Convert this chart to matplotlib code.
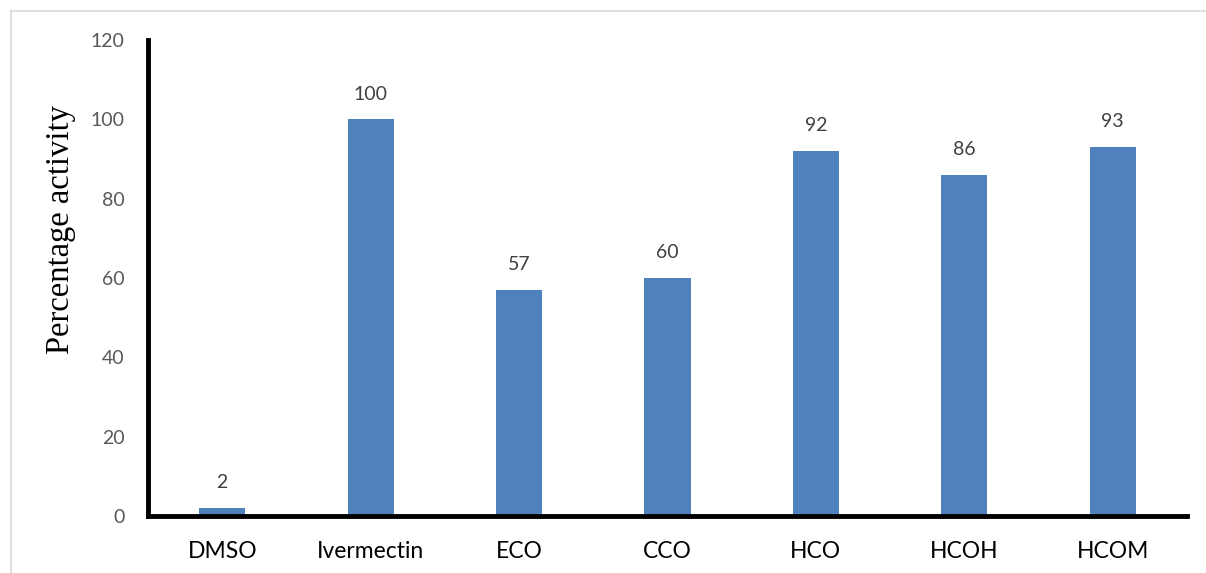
import matplotlib
matplotlib.use("Agg")
import matplotlib.pyplot as plt
from matplotlib.lines import Line2D

categories = ["DMSO", "Ivermectin", "ECO", "CCO", "HCO", "HCOH", "HCOM"]
values = [2, 100, 57, 60, 92, 86, 93]
yticks = [0, 20, 40, 60, 80, 100, 120]

fig = plt.figure(figsize=(12.06, 5.73), dpi=100)
ax = fig.add_axes([148/1206, 1 - 516/573, (1187 - 148)/1206, (516 - 40)/573])

x = list(range(len(categories)))
bars = ax.bar(x, values, width=0.31, color="#4F81BD", zorder=2)
ax.set_xlim(-0.5, len(categories) - 0.5)
ax.set_ylim(0, 120)
ax.set_yticks(yticks)
ax.set_xticks(x)
ax.set_xticklabels(categories, fontsize=16.5, color="black", family="Lato")
ax.set_yticklabels([str(t) for t in yticks], fontsize=14, color="#595959", family="Lato")
ax.tick_params(axis="both", length=0)
ax.tick_params(axis="y", pad=17)
ax.tick_params(axis="x", pad=18)

for s in ["top", "right"]:
    ax.spines[s].set_visible(False)
for s in ["left", "bottom"]:
    ax.spines[s].set_linewidth(3.5)
    ax.spines[s].set_color("black")

for xi, v in zip(x, values):
    ax.annotate(str(v), (xi, v), xytext=(0, 12), textcoords="offset points",
                ha="center", va="bottom", fontsize=14, color="#404040", family="Lato")

fig.text(61/1206, 1 - 230/573, "Percentage activity", rotation=90, ha="center", va="center",
         fontsize=23.5, family="Liberation Serif", color="black")

# light chart-area border (partially visible)
fig.add_artist(Line2D([11/1206, 11/1206], [0, 1 - 10.5/573], transform=fig.transFigure,
                      color="#D9D9D9", linewidth=1.2))
fig.add_artist(Line2D([11/1206, 1], [1 - 10.5/573, 1 - 10.5/573], transform=fig.transFigure,
                      color="#D9D9D9", linewidth=1.2))

fig.savefig("out.png", dpi=100)
